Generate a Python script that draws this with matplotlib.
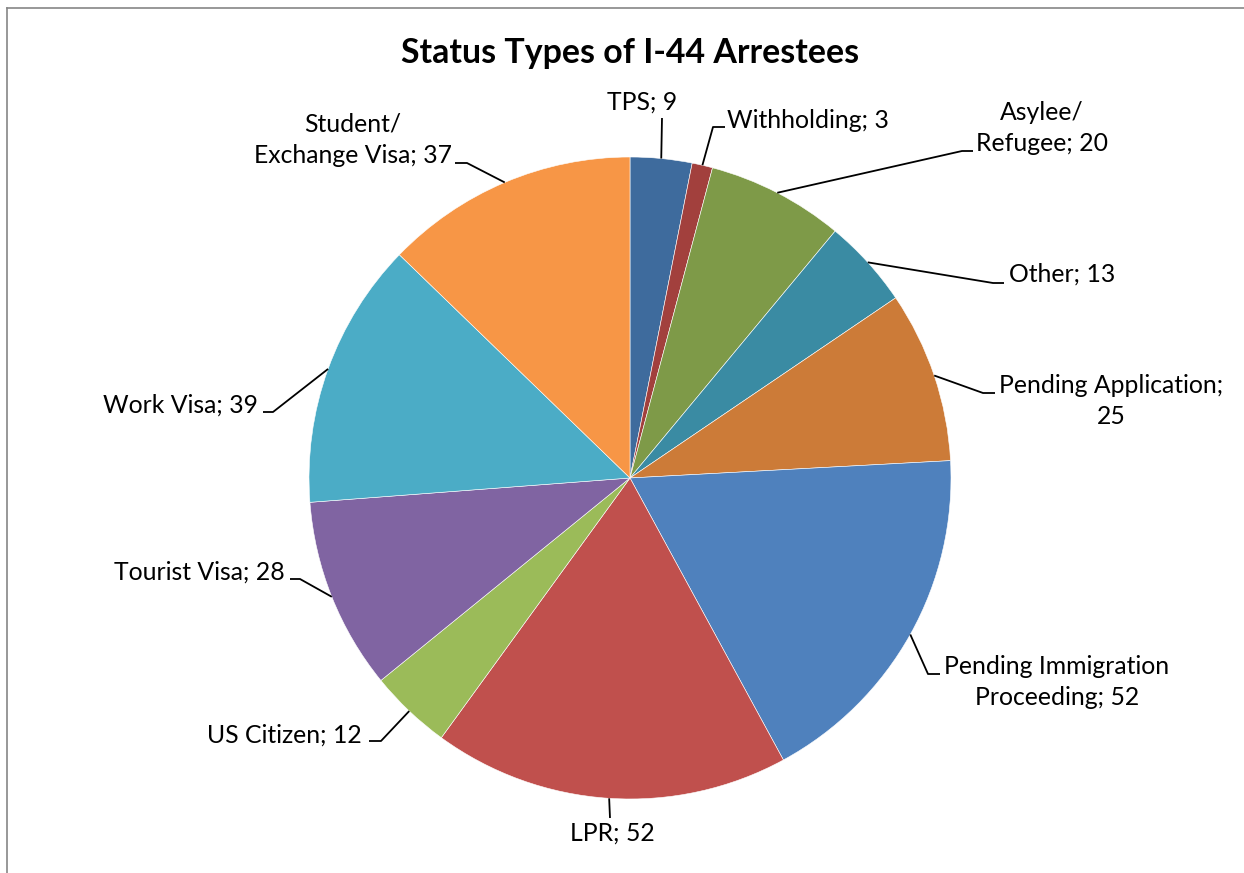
import matplotlib.pyplot as plt
import numpy as np
from matplotlib.lines import Line2D

plt.rcParams['font.family'] = ['Lato', 'DejaVu Sans']

# data
labels = ['TPS', 'Withholding', 'Asylee/\nRefugee', 'Other', 'Pending Application;\n',
          'Pending Immigration\nProceeding', 'LPR', 'US Citizen', 'Tourist Visa',
          'Work Visa', 'Student/\nExchange Visa']
values = [9, 3, 20, 13, 25, 52, 52, 12, 28, 39, 37]
colors = ['#3E6B9D', '#A2403D', '#7E9A48', '#3A8BA3', '#CC7B38', '#4F81BD',
          '#C0504D', '#9BBB59', '#8064A2', '#4BACC6', '#F79646']

# label layout in pixels: knee, end of horizontal tick, text anchor, ha
W, H = 1244, 873
cx, cy, R = 630, 478, 321
layout = [
    ((662, 118), None, (642, 102), 'center'),
    ((713, 127), (725, 127), (727, 120), 'left'),
    ((962, 151), (973, 151), (1042, 128), 'center'),
    ((993, 283), (1004, 283), (1009, 274), 'left'),
    ((983, 393), (995, 393), (1111, 401), 'center'),
    ((928, 674), (940, 674), (1057, 682), 'center'),
    ((610, 818), None, (612, 833), 'center'),
    ((381, 741), (369, 741), (362, 735), 'right'),
    ((300, 579), (290, 579), (285, 572), 'right'),
    ((273, 412), (263, 412), (258, 405), 'right'),
    ((467, 163), (455, 163), (353, 140), 'center'),
]

def to_data(p):
    return ((p[0] - cx) / R, (cy - p[1]) / R)

fig = plt.figure(figsize=(W / 100, H / 100), dpi=100)
ax = fig.add_axes([(cx - R) / W, (H - cy - R) / H, 2 * R / W, 2 * R / H])
wedges, _ = ax.pie(values, colors=colors, startangle=90, counterclock=False,
                   radius=1, wedgeprops=dict(edgecolor='white', linewidth=0.4))
ax.set_xlim(-1, 1)
ax.set_ylim(-1, 1)
ax.set_aspect('equal')
ax.axis('off')

for w, lab, v, (knee, end, txt, ha) in zip(wedges, labels, values, layout):
    ang = np.deg2rad((w.theta1 + w.theta2) / 2)
    pts = [(np.cos(ang), np.sin(ang)), to_data(knee)]
    if end is not None:
        pts.append(to_data(end))
    xs, ys = zip(*pts)
    ax.plot(xs, ys, color='black', lw=1.3, clip_on=False, solid_capstyle='butt')
    if lab.endswith('\n'):
        s = lab + str(v)
    else:
        s = lab + '; ' + str(v)
    tx, ty = to_data(txt)
    ax.text(tx, ty, s, ha=ha, va='center', multialignment='center',
            fontsize=17.8, linespacing=1.45, clip_on=False)

fig.text(630 / W, 1 - 53 / H, 'Status Types of I-44 Arrestees', ha='center',
         va='center', fontsize=24.4, fontweight='bold')

# chart border
fig.add_artist(Line2D([7 / W, 7 / W], [0, 1 - 8 / H], color='#868686', lw=1.2))
fig.add_artist(Line2D([7 / W, 1], [1 - 8 / H, 1 - 8 / H], color='#868686', lw=1.2))

fig.savefig('out.png', dpi=100)
